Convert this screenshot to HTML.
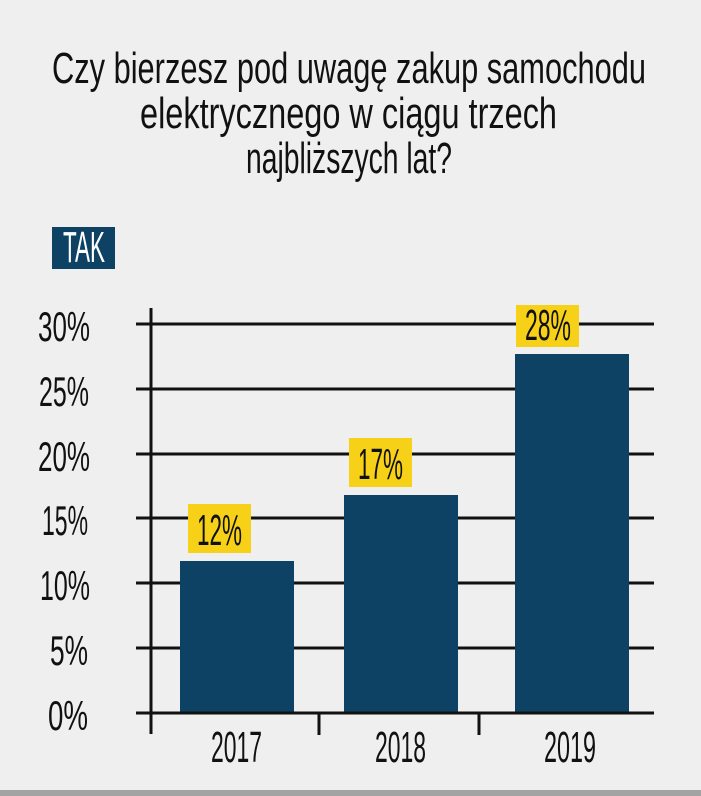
<!DOCTYPE html>
<html><head><meta charset="utf-8"><style>
html,body{margin:0;padding:0;background:#efefef;}
svg{display:block;}
text{font-family:"Liberation Sans Narrow","Liberation Sans",sans-serif;}
</style></head><body>
<svg width="701" height="796" viewBox="0 0 701 796" xmlns="http://www.w3.org/2000/svg">
<rect width="701" height="796" fill="#efefef"/>
<g fill="#111" font-size="44">
<text x="52" y="83" textLength="594" lengthAdjust="spacingAndGlyphs">Czy bierzesz pod uwagę zakup samochodu</text>
<text x="140" y="128" textLength="417" lengthAdjust="spacingAndGlyphs">elektrycznego w ciągu trzech</text>
<text x="246" y="173" textLength="206" lengthAdjust="spacingAndGlyphs">najbliższych lat?</text>
</g>
<rect x="52" y="227" width="63" height="42" fill="#0d4265"/>
<text x="63" y="262" font-size="44" fill="#fff" textLength="42" lengthAdjust="spacingAndGlyphs">TAK</text>
<g stroke="#111" stroke-width="3">
<line x1="136" y1="324" x2="654" y2="324"/>
<line x1="136" y1="389" x2="654" y2="389"/>
<line x1="136" y1="454" x2="654" y2="454"/>
<line x1="136" y1="518" x2="654" y2="518"/>
<line x1="136" y1="583" x2="654" y2="583"/>
<line x1="136" y1="648" x2="654" y2="648"/>
<line x1="151" y1="308" x2="151" y2="734"/>
<line x1="319" y1="713" x2="319" y2="735"/>
<line x1="479" y1="713" x2="479" y2="735"/>
</g>
<g fill="#0d4265">
<rect x="180" y="561" width="114" height="152"/>
<rect x="344" y="495" width="114" height="218"/>
<rect x="515" y="354" width="114" height="359"/>
</g>
<line x1="136" y1="713" x2="654" y2="713" stroke="#111" stroke-width="3"/>
<g fill="#f7d117">
<rect x="188" y="504" width="63" height="49"/>
<rect x="349" y="438" width="63" height="49"/>
<rect x="516" y="305" width="63" height="42"/>
</g>
<g fill="#111" font-size="44">
<text x="197" y="545" textLength="45" lengthAdjust="spacingAndGlyphs">12%</text>
<text x="358" y="479" textLength="45" lengthAdjust="spacingAndGlyphs">17%</text>
<text x="525" y="340" textLength="46" lengthAdjust="spacingAndGlyphs">28%</text>
</g>
<g fill="#111" font-size="42">
<text x="38" y="341" textLength="52" lengthAdjust="spacingAndGlyphs">30%</text>
<text x="39" y="406" textLength="50" lengthAdjust="spacingAndGlyphs">25%</text>
<text x="38" y="471" textLength="52" lengthAdjust="spacingAndGlyphs">20%</text>
<text x="42" y="535" textLength="46" lengthAdjust="spacingAndGlyphs">15%</text>
<text x="40" y="600" textLength="50" lengthAdjust="spacingAndGlyphs">10%</text>
<text x="50" y="665" textLength="38" lengthAdjust="spacingAndGlyphs">5%</text>
<text x="48" y="730" textLength="40" lengthAdjust="spacingAndGlyphs">0%</text>
</g>
<g fill="#111" font-size="44">
<text x="211" y="762" textLength="51" lengthAdjust="spacingAndGlyphs">2017</text>
<text x="375" y="762" textLength="51" lengthAdjust="spacingAndGlyphs">2018</text>
<text x="544" y="762" textLength="52" lengthAdjust="spacingAndGlyphs">2019</text>
</g>
<rect x="0" y="790" width="701" height="6" fill="#a3a3a3"/>
</svg>
</body></html>
